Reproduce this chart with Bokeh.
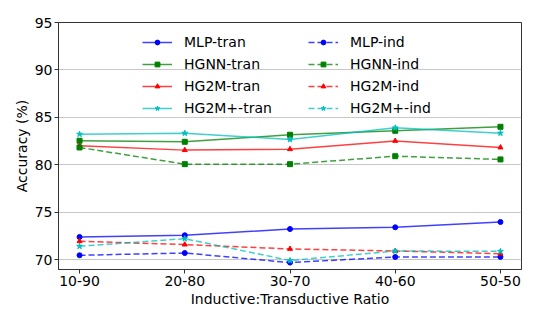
from bokeh.plotting import figure
from bokeh.models import FixedTicker, Range1d, Legend
from bokeh.embed import file_html
from bokeh.resources import INLINE

ratios = ["10-90", "20-80", "30-70", "40-60", "50-50"]
mlp_tran = [72.38, 72.56, 73.22, 73.40, 73.96]
mlp_ind = [70.45, 70.69, 69.68, 70.27, 70.28]
hgnn_tran = [82.53, 82.42, 83.16, 83.58, 84.00]
hgnn_ind = [81.82, 80.06, 80.06, 80.90, 80.56]
hg2m_tran = [82.00, 81.54, 81.64, 82.51, 81.82]
hg2m_ind = [71.93, 71.58, 71.12, 70.90, 70.62]
hg2mp_tran = [83.22, 83.33, 82.66, 83.89, 83.33]
hg2mp_ind = [71.40, 72.20, 69.90, 70.90, 70.87]

series = [
    ("MLP-tran", mlp_tran, "blue", "circle", "solid"),
    ("HGNN-tran", hgnn_tran, "green", "square", "solid"),
    ("HG2M-tran", hg2m_tran, "red", "triangle", "solid"),
    ("HG2M+-tran", hg2mp_tran, "#00bfbf", "star", "solid"),
    ("MLP-ind", mlp_ind, "blue", "circle", "6 3"),
    ("HGNN-ind", hgnn_ind, "green", "square", "6 3"),
    ("HG2M-ind", hg2m_ind, "red", "triangle", "6 3"),
    ("HG2M+-ind", hg2mp_ind, "#00bfbf", "star", "6 3"),
]

xs = list(range(len(ratios)))

p = figure(width=532, height=316, output_backend="svg", toolbar_location=None,
           x_range=Range1d(-0.2, 4.2), y_range=Range1d(68.95, 95),
           min_border_left=58, min_border_right=11, min_border_top=22, min_border_bottom=47)

items = []
for name, vals, color, marker, dash in series:
    r1 = p.line(xs, vals, line_color=color, line_width=1.5, line_dash=dash, line_alpha=0.75)
    r2 = p.scatter(xs, vals, marker=marker, size=6 if marker == "star" else 5,
                   fill_color=color, line_color=color)
    items.append((name, [r1, r2]))

legend = Legend(items=items, ncols=2, location=(84, 151))
legend.background_fill_alpha = 0
legend.border_line_alpha = 0
legend.padding = 0
legend.spacing = 2
legend.glyph_width = 30
legend.glyph_height = 12
legend.label_height = 20
legend.label_width = 122
legend.label_standoff = 12
legend.label_text_font = "DejaVu Sans"
legend.label_text_font_size = "14px"
legend.label_text_color = "black"
p.add_layout(legend, "center")

p.xaxis.ticker = FixedTicker(ticks=xs)
p.xaxis.major_label_overrides = {i: r for i, r in enumerate(ratios)}
p.yaxis.ticker = FixedTicker(ticks=[70, 75, 80, 85, 90, 95])

for ax in (p.xaxis[0], p.yaxis[0]):
    ax.major_label_text_font = "DejaVu Sans"
    ax.major_label_text_font_size = "14px"
    ax.major_label_text_color = "black"
    ax.axis_label_text_font = "DejaVu Sans"
    ax.axis_label_text_font_size = "14px"
    ax.axis_label_text_font_style = "normal"
    ax.axis_label_text_color = "black"
    ax.major_tick_in = 0
    ax.major_tick_out = 4
    ax.minor_tick_line_color = None
    ax.major_label_standoff = 2
    ax.axis_label_standoff = 2
    ax.axis_line_color = "#333333"
    ax.major_tick_line_color = "#333333"

p.xaxis.axis_label = "Inductive:Transductive Ratio"
p.yaxis.axis_label = "Accuracy (%)"

p.xgrid.grid_line_color = None
p.ygrid.grid_line_color = "#b0b0b0"
p.ygrid.grid_line_alpha = 0.7
p.outline_line_color = "#333333"
p.outline_line_alpha = 1

open("out.html", "w").write(file_html(p, INLINE))
